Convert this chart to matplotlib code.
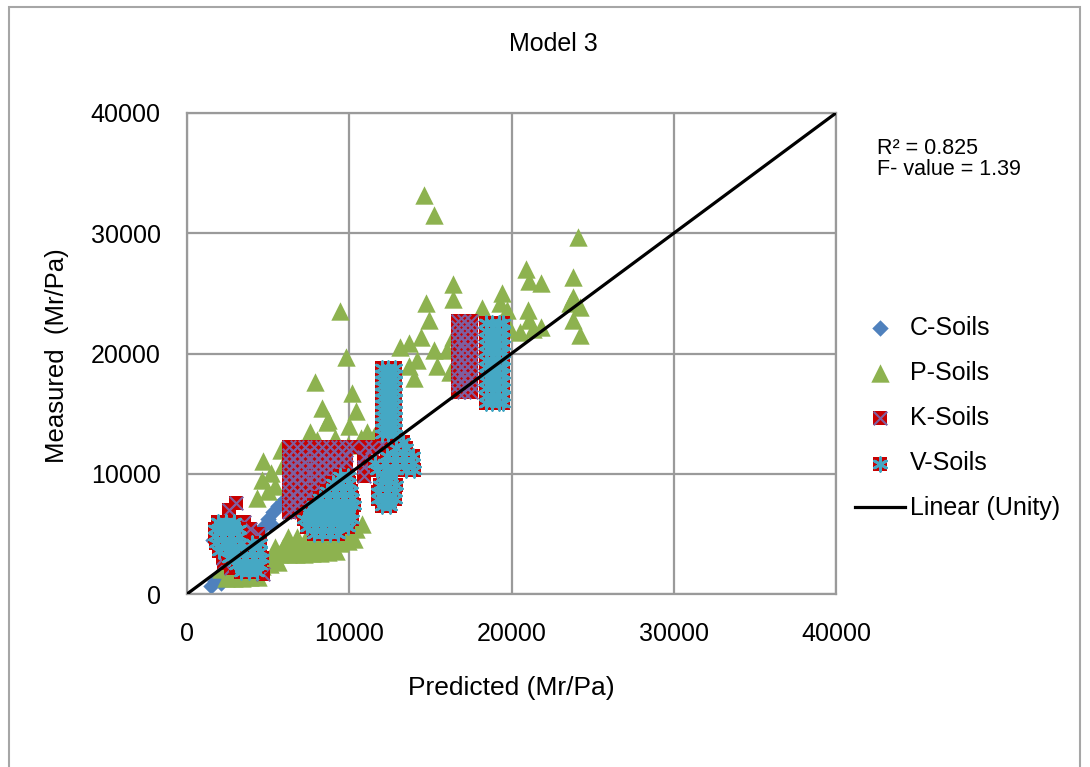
import matplotlib
matplotlib.use('Agg')
import matplotlib.pyplot as plt
from matplotlib.patches import Rectangle
from matplotlib.legend_handler import HandlerTuple

plt.rcParams['font.family'] = ['Liberation Sans', 'DejaVu Sans']

# C-Soils (mostly hidden beneath the other series)
c_x = [1500, 1700, 1900, 2100, 2300, 1600, 1800, 4400, 4700, 5000, 5300, 5600, 5900, 5200, 3000, 9000]
c_y = [700, 1100, 1500, 900, 1300, 4500, 5500, 5000, 5600, 6200, 6800, 7300, 7700, 5800, 3000, 8000]

# P-Soils
p_x = [14600, 15200, 24100, 9400, 9800, 10200, 7900, 8300, 8700,
       20900, 21100, 23800, 23800, 24200, 23800, 24200, 21800, 21800, 23600,
       16400, 16400, 14700, 14900, 19400, 19300, 18200, 19700, 19300, 19900,
       21000, 21100, 21300, 20500,
       13700, 14400, 15200, 16400, 16000, 16800, 13100, 14200, 15400, 13700, 14000, 16200, 17300,
       10700, 11100, 11500, 9900, 9600, 10000, 10400, 7600, 8600,
       4600, 4700, 5200, 5900, 6300, 7000, 7400, 8000, 9100, 5000, 4300, 5400, 5800,
       2400, 2900, 3400, 3900, 4400,
       2100, 2600, 3100, 3600, 4100, 4600, 5100, 5600,
       4200, 4700, 5200, 5700, 6200, 6700, 7200, 7700, 8200, 8700, 9200,
       5400, 5900, 6400, 6900, 7400, 7900, 8400, 8900, 9400, 9900, 10300,
       6200, 6800, 7400, 8000, 8600, 9200, 9800, 10400, 10800]
p_y = [33200, 31500, 29700, 23500, 19700, 16700, 17600, 15500, 14500,
       27000, 26000, 26400, 24700, 23900, 22800, 21500, 25900, 22200, 24200,
       25800, 24500, 24200, 22800, 25000, 24200, 23800, 23600, 22500, 22000,
       23600, 22800, 22000, 21800,
       20900, 21400, 20300, 21400, 20300, 19700, 20500, 19500, 19000, 19000, 18000, 18500, 20700,
       13000, 13500, 13100, 12400, 11000, 14000, 15200, 13500, 14300,
       9500, 11100, 10100, 10700, 11600, 12100, 12600, 12800, 13000, 8600, 8000, 9000, 12000,
       1300, 1300, 1300, 1400, 1400,
       2100, 2100, 2100, 2200, 2200, 2300, 2500, 2700,
       3000, 3100, 3200, 3300, 3300, 3300, 3300, 3400, 3400, 3500, 3600,
       3900, 3900, 4000, 4000, 4000, 4000, 4100, 4100, 4200, 4400, 4600,
       4700, 4700, 4800, 4800, 4900, 5000, 5200, 5400, 5800]

# K-Soils
k_x = [2300, 2700, 3000, 2600, 3500, 3900, 4400, 2200, 4700,
       6300, 6800, 7300, 7800, 8300, 8800, 9300, 9800, 10200,
       6300, 6800, 7300, 7800, 8300, 8800, 9300, 9800,
       6300, 6800, 7300, 7800, 8300, 8800, 9300, 9800,
       6300, 6800, 7300, 7800, 8300, 8800, 9300,
       6300, 6800, 7300, 7800, 8300, 8800,
       6300, 6800, 7300, 7800, 8300,
       6300, 6800, 7300, 7800,
       6300, 6800, 7300,
       6300, 6800, 7200,
       6300, 6800,
       10900, 10900, 10900, 11400, 11400, 11000, 12000,
       16700, 16700, 16700, 16700, 16700, 16700, 16700, 16700, 16700, 16700, 16700,
       17100, 17100, 17100, 17100, 17100, 17100, 17100, 17100, 17100, 17100, 17100,
       17500, 17500, 17500, 17500, 17500, 17500, 17500, 17500, 17500, 17500, 17500]
k_y = [2600, 2200, 7600, 7000, 6000, 5400, 5000, 3000, 1700,
       12200, 12200, 12200, 12200, 12200, 12200, 12200, 12200, 12200,
       11600, 11600, 11600, 11600, 11600, 11600, 11600, 11600,
       11000, 11000, 11000, 11000, 11000, 11000, 11000, 11000,
       10400, 10400, 10400, 10400, 10400, 10400, 10400,
       9800, 9800, 9800, 9800, 9800, 9800,
       9200, 9200, 9200, 9200, 9200,
       8600, 8600, 8600, 8600,
       8000, 8000, 8000,
       7400, 7400, 7400,
       6800, 6800,
       9800, 10600, 11400, 12200, 11000, 12200, 12500,
       16800, 17400, 18000, 18600, 19200, 19800, 20400, 21000, 21600, 22200, 22700,
       16800, 17400, 18000, 18600, 19200, 19800, 20400, 21000, 21600, 22200, 22700,
       16800, 17400, 18000, 18600, 19200, 19800, 20400, 21000, 21600, 22200, 22700]

# V-Soils
v_x = [1900, 2400, 2900,
       1700, 2200, 2700, 3200,
       1700, 2200, 2700, 3200,
       1800, 2300, 2800, 3300, 4000, 4500,
       2000, 2500, 3000, 3500, 4000, 4500,
       2600, 3100, 3600, 4100, 4600,
       3000, 3500, 4000, 4500,
       3300, 3800, 4300,
       7800, 8300, 8800, 9300,
       7400, 7900, 8400, 8900, 9400, 9900,
       7200, 7700, 8200, 8700, 9200, 9700, 10200,
       7500, 8000, 8500, 9000, 9500, 10000,
       7800, 8300, 8800, 9300, 9800, 10300,
       8200, 8700, 9200, 9700, 10200,
       8600, 9100, 9600, 10100,
       9000, 9500, 10000,
       9400, 9900,
       12000, 12500, 11800, 12300, 12800, 11800, 12300, 12800, 11900, 12400, 12900,
       12100, 12600, 11700, 12300, 12900, 13500, 14000,
       11600, 12200, 12800, 13400, 13900, 12300, 12800, 13400, 13900, 12900, 13500, 13300,
       12000, 12000, 12000, 12000, 12000, 12000, 12000, 12000, 12000, 12000, 12000, 12000,
       12400, 12400, 12400, 12400, 12400, 12400, 12400, 12400, 12400, 12400, 12400, 12400,
       12800, 12800, 12800, 12800, 12800, 12800, 12800, 12800, 12800, 12800, 12800, 12800,
       18400, 18400, 18400, 18400, 18400, 18400, 18400, 18400, 18400, 18400, 18400, 18400,
       18800, 18800, 18800, 18800, 18800, 18800, 18800, 18800, 18800, 18800, 18800, 18800,
       19200, 19200, 19200, 19200, 19200, 19200, 19200, 19200, 19200, 19200, 19200, 19200,
       19500, 19500, 19500, 19500, 19500, 19500, 19500, 19500, 19500, 19500, 19500, 19500]
v_y = [6000, 6000, 6000,
       5400, 5400, 5400, 5400,
       4800, 4800, 4800, 4800,
       4200, 4200, 4200, 4200, 4200, 4200,
       3600, 3600, 3600, 3600, 3600, 3600,
       3000, 3000, 3000, 3000, 3000,
       2400, 2400, 2400, 2400,
       1800, 1800, 1800,
       5000, 5000, 5000, 5000,
       5600, 5600, 5600, 5600, 5600, 5600,
       6200, 6200, 6200, 6200, 6200, 6200, 6200,
       6800, 6800, 6800, 6800, 6800, 6800,
       7400, 7400, 7400, 7400, 7400, 7400,
       8000, 8000, 8000, 8000, 8000,
       8600, 8600, 8600, 8600,
       9200, 9200, 9200,
       9800, 9800,
       7300, 7300, 7900, 7900, 7900, 8500, 8500, 8500, 9100, 9100, 9100,
       9700, 9700, 10300, 10300, 10300, 10300, 10300,
       10900, 10900, 10900, 10900, 10900, 11500, 11500, 11500, 11500, 12100, 12100, 12600,
       13300, 13800, 14300, 14800, 15300, 15800, 16300, 16800, 17300, 17800, 18300, 18800,
       13300, 13800, 14300, 14800, 15300, 15800, 16300, 16800, 17300, 17800, 18300, 18800,
       13300, 13800, 14300, 14800, 15300, 15800, 16300, 16800, 17300, 17800, 18300, 18800,
       15900, 16500, 17100, 17700, 18300, 18900, 19500, 20100, 20700, 21300, 21900, 22500,
       15900, 16500, 17100, 17700, 18300, 18900, 19500, 20100, 20700, 21300, 21900, 22500,
       15900, 16500, 17100, 17700, 18300, 18900, 19500, 20100, 20700, 21300, 21900, 22500,
       15900, 16500, 17100, 17700, 18300, 18900, 19500, 20100, 20700, 21300, 21900, 22500]

unity = [0, 40000]
ticks = [0, 10000, 20000, 30000, 40000]

blue = '#4F81BD'
green = '#8DB24F'
red = '#C80000'
purple = '#7F5FA0'
teal = '#45A8C4'
gridc = '#9A9A9A'

fig = plt.figure(figsize=(10.9, 7.67), dpi=100)
fig.patches.append(Rectangle((9 / 1090, -0.05), 1071 / 1090, 1 - 7 / 767 + 0.05,
                             transform=fig.transFigure, fill=False,
                             edgecolor='#A6A6A6', linewidth=1.5))

ax = fig.add_axes([187 / 1090, 1 - 594 / 767, 649 / 1090, 481 / 767])
ax.set_axisbelow(True)
ax.grid(True, color=gridc, linewidth=1.6)
for s in ax.spines.values():
    s.set_color(gridc)
    s.set_linewidth(1.6)

hc = ax.scatter(c_x, c_y, marker='D', s=70, color=blue, linewidths=0, zorder=2)
hp = ax.scatter(p_x, p_y, marker='^', s=175, color=green, linewidths=0, zorder=3)
hk1 = ax.scatter(k_x, k_y, marker='s', s=115, color=red, linewidths=0, zorder=4)
hk2 = ax.scatter(k_x, k_y, marker='x', s=95, color=purple, linewidths=1.5, zorder=4)
hv1 = ax.scatter(v_x, v_y, marker='s', s=115, color=red, linewidths=0, zorder=5)
hv2 = ax.scatter(v_x, v_y, marker=(6, 2, 0), s=95, color=teal, linewidths=2.0, zorder=5)
hl, = ax.plot(unity, unity, color='black', linewidth=2.3, zorder=6)

ax.set_xlim(0, 40000)
ax.set_ylim(0, 40000)
ax.set_xticks(ticks)
ax.set_yticks(ticks)
ax.tick_params(length=0, labelsize=18)
ax.tick_params(axis='y', pad=19)
ax.tick_params(axis='x', pad=20)

fig.text(553 / 1090, 1 - 44 / 767, 'Model 3', ha='center', va='center', fontsize=18)
fig.text(511 / 1090, 1 - 688 / 767, 'Predicted (Mr/Pa)', ha='center', va='center', fontsize=19)
fig.text(57 / 1090, 1 - 356 / 767, 'Measured  (Mr/Pa)', ha='center', va='center',
         rotation=90, fontsize=18.5)
fig.text(877 / 1090, 1 - 159 / 767, 'R² = 0.825\nF- value = 1.39', ha='left', va='center',
         fontsize=15.5, linespacing=1.05)

fig.legend([hc, hp, (hk1, hk2), (hv1, hv2), hl],
           ['C-Soils', 'P-Soils', 'K-Soils', 'V-Soils', 'Linear (Unity)'],
           handler_map={tuple: HandlerTuple(ndivide=1, pad=0)},
           loc='center left', bbox_to_anchor=(845 / 1090, 1 - 418 / 767),
           frameon=False, fontsize=18, handlelength=2.0, handletextpad=0.2,
           labelspacing=0.85, borderaxespad=0)

fig.savefig('out.png', dpi=100)
